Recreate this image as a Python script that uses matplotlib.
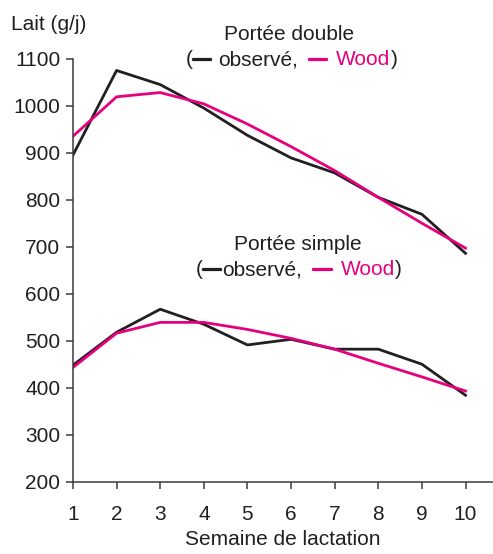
import matplotlib.pyplot as plt
import matplotlib.patheffects as pe

plt.rcParams['font.family'] = ['Liberation Sans', 'DejaVu Sans']

semaines = [1, 2, 3, 4, 5, 6, 7, 8, 9, 10]
double_obs = [895, 1075, 1045, 995, 937, 889, 857, 805, 769, 686]
double_wood = [935, 1019, 1028, 1004, 961, 913, 862, 805, 750, 697]
simple_obs = [448, 518, 567, 535, 491, 503, 482, 482, 450, 384]
simple_wood = [443, 516, 539, 539, 524, 505, 482, 452, 423, 393]

noir = '#231f20'
rose = '#e6007e'
fs = 15

fig = plt.figure(figsize=(4.93, 5.54), dpi=100)
ax = fig.add_axes([0.148, 0.1305, 0.852, 0.7635])

ax.plot(semaines, double_obs, color=noir, lw=2)
ax.plot(semaines, double_wood, color=rose, lw=2)
ax.plot(semaines, simple_obs, color=noir, lw=2)
ax.plot(semaines, simple_wood, color=rose, lw=2)

ax.set_xlim(1, 10.63)
ax.set_ylim(200, 1100)
ax.set_xticks(semaines)
ax.set_yticks(range(200, 1101, 100))
for s in ['top', 'right']:
    ax.spines[s].set_visible(False)
for s in ['left', 'bottom']:
    ax.spines[s].set_color('#3a3a3a')
    ax.spines[s].set_linewidth(1.1)
ax.tick_params(axis='both', direction='out', length=5, width=1.1, color='#3a3a3a',
               labelsize=fs, labelcolor=noir)
ax.tick_params(axis='x', pad=12)
ax.tick_params(axis='y', pad=4)
ax.set_xlabel('Semaine de lactation', fontsize=fs, color=noir, labelpad=4)

fig.text(0.022, 0.955, 'Lait (g/j)', fontsize=fs, color=noir, va='center')


def legende(titre, x, y, x0, sep):
    fig.text(x, y, titre, fontsize=fs, color=noir, ha='center', va='center')
    t = fig.text(x0, y - 0.045, '(', fontsize=fs, color=noir, va='center')
    # (texte, couleur, decalage en points)
    parts = [('\u2014', noir, 0), ('observé,', noir, sep), ('\u2014', rose, 8),
             ('Wood', rose, 7), (')', noir, 0)]
    for txt, col, dx in parts:
        t = ax.annotate(txt, xy=(1, 0.5), xycoords=t, xytext=(dx, 0),
                        textcoords='offset points', va='center', ha='left',
                        fontsize=fs, color=col)
        if txt == '\u2014':
            t.set_fontsize(13)
            t.set_path_effects([pe.withStroke(linewidth=1.6, foreground=col)])


legende('Portée double', 0.586, 0.937, 0.377, 5)
legende('Portée simple', 0.604, 0.558, 0.398, 1)

fig.savefig('out.png', dpi=100)
